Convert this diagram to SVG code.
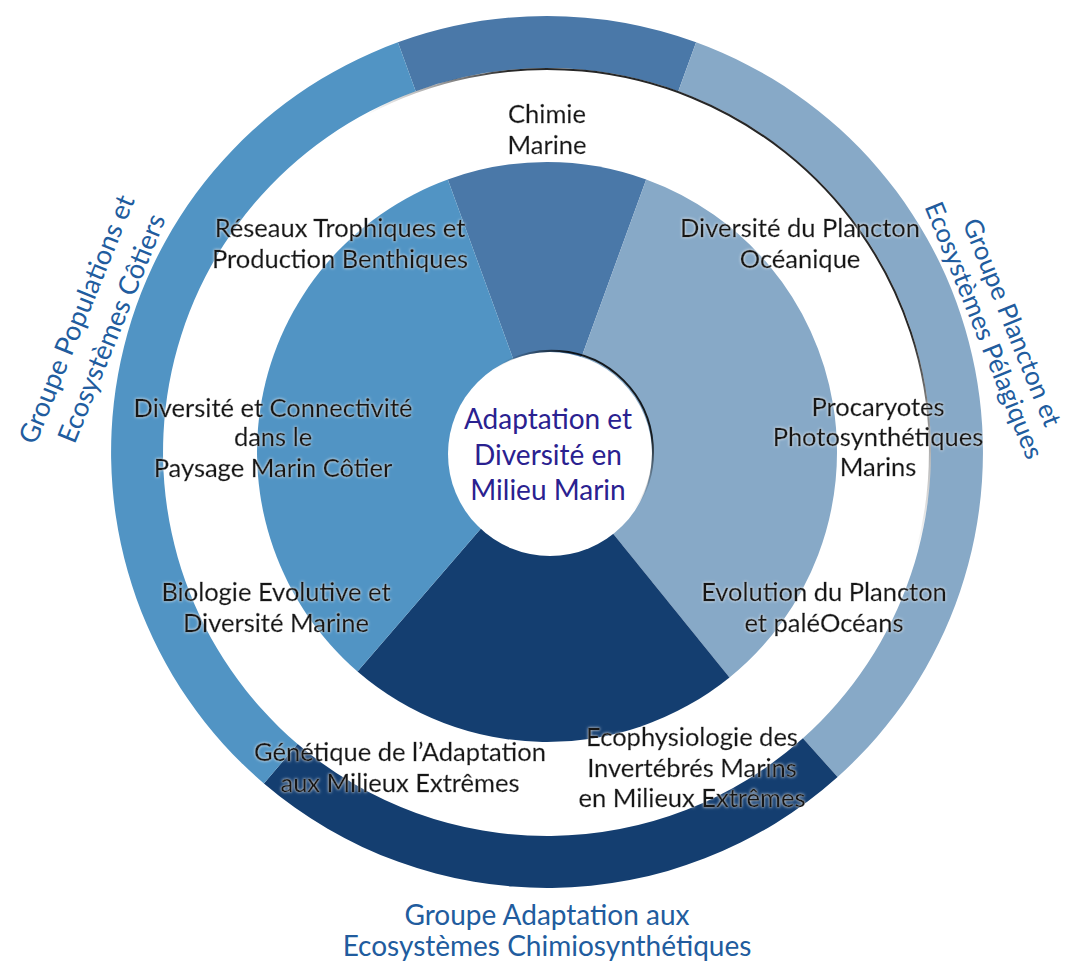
<svg xmlns="http://www.w3.org/2000/svg" width="1071" height="963" viewBox="0 0 1071 963">
  <defs>
    <style>
      .c-top { fill: #4a78a8; }
      .c-left { fill: #5194c4; }
      .c-right { fill: #87a9c7; }
      .c-bottom { fill: #143e70; }
      .lbl { font-family: "Lato", "Open Sans", sans-serif; font-size: 25.5px; fill: #141414; stroke: #141414; stroke-width: 0.35px; text-anchor: middle; }
      .core { font-family: "Lato", "Open Sans", sans-serif; font-size: 28px; fill: #2a2190; text-anchor: middle; }
      .grp { font-family: "Lato", "Open Sans", sans-serif; font-size: 27px; fill: #215c9e; text-anchor: middle; }
      .shade { fill: none; stroke-width: 2; stroke-linecap: round; }
    </style>
    <filter id="halo" x="-10%" y="-30%" width="120%" height="160%">
      <feGaussianBlur in="SourceAlpha" stdDeviation="1.6" result="b"/>
      <feFlood flood-color="#ffffff" flood-opacity="0.85"/>
      <feComposite in2="b" operator="in" result="glow"/>
      <feMerge>
        <feMergeNode in="glow"/>
        <feMergeNode in="SourceGraphic"/>
      </feMerge>
    </filter>
    <linearGradient id="ringShade" gradientUnits="userSpaceOnUse" x1="367" y1="114" x2="917" y2="551">
      <stop offset="0" stop-color="#000" stop-opacity="0"/>
      <stop offset="0.12" stop-color="#000" stop-opacity="0.85"/>
      <stop offset="0.8" stop-color="#000" stop-opacity="0.85"/>
      <stop offset="1" stop-color="#000" stop-opacity="0"/>
    </linearGradient>
    <linearGradient id="coreShade" gradientUnits="userSpaceOnUse" x1="492" y1="371" x2="632" y2="512">
      <stop offset="0" stop-color="#000" stop-opacity="0"/>
      <stop offset="0.2" stop-color="#000" stop-opacity="0.85"/>
      <stop offset="0.8" stop-color="#000" stop-opacity="0.85"/>
      <stop offset="1" stop-color="#000" stop-opacity="0"/>
    </linearGradient>
  </defs>

  <rect width="1071" height="963" fill="#ffffff"/>

  <!-- outer ring: the three research groups plus the chemistry segment -->
  <g id="ring">
    <path id="ring-top" class="c-top" d="M397.9,42.3 A436,436 0 0 1 696.1,42.3 L678.3,91.2 A384,384 0 0 0 415.7,91.2 Z"/>
    <path id="ring-right" class="c-right" d="M696.1,42.3 A436,436 0 0 1 837.6,777 L802.9,738.3 A384,384 0 0 0 678.3,91.2 Z"/>
    <path id="ring-bottom" class="c-bottom" d="M837.6,777 A436,436 0 0 1 263.9,783.5 L297.6,744 A384,384 0 0 0 802.9,738.3 Z"/>
    <path id="ring-left" class="c-left" d="M263.9,783.5 A436,436 0 0 1 397.9,42.3 L415.7,91.2 A384,384 0 0 0 297.6,744 Z"/>
    <path class="shade" stroke="url(#ringShade)" d="M367.2,113.8 A383,383 0 0 1 916.9,551.1"/>
  </g>

  <!-- inner pie: the teams -->
  <g id="pie">
    <path id="pie-top" class="c-top" d="M547,452 L447.8,179.5 A290,290 0 0 1 646.2,179.5 Z"/>
    <path id="pie-right" class="c-right" d="M547,452 L646.2,179.5 A290,290 0 0 1 729.5,677.4 Z"/>
    <path id="pie-bottom" class="c-bottom" d="M547,452 L729.5,677.4 A290,290 0 0 1 357.5,671.5 Z"/>
    <path id="pie-left" class="c-left" d="M547,452 L357.5,671.5 A290,290 0 0 1 447.8,179.5 Z"/>
  </g>

  <!-- central unit -->
  <g id="core">
    <circle cx="550" cy="454" r="102" fill="#ffffff"/>
    <path class="shade" stroke="url(#coreShade)" d="M491.5,370.8 A101,101 0 0 1 632.7,512.4"/>
    <text class="core" x="548" y="429">Adaptation et</text>
    <text class="core" x="548" y="465">Diversité en</text>
    <text class="core" x="548" y="500">Milieu Marin</text>
  </g>

  <!-- team labels -->
  <g id="team-chimie" filter="url(#halo)">
    <text class="lbl" x="547" y="123">Chimie</text>
    <text class="lbl" x="547" y="154">Marine</text>
  </g>
  <g id="team-reseaux" filter="url(#halo)">
    <text class="lbl" x="340" y="237">Réseaux Trophiques et</text>
    <text class="lbl" x="340" y="268">Production Benthiques</text>
  </g>
  <g id="team-plancton" filter="url(#halo)">
    <text class="lbl" x="800" y="237">Diversité du Plancton</text>
    <text class="lbl" x="800" y="268">Océanique</text>
  </g>
  <g id="team-connectivite" filter="url(#halo)">
    <text class="lbl" x="273" y="417">Diversité et Connectivité</text>
    <text class="lbl" x="273" y="446">dans le</text>
    <text class="lbl" x="273" y="477">Paysage Marin Côtier</text>
  </g>
  <g id="team-procaryotes" filter="url(#halo)">
    <text class="lbl" x="878" y="416">Procaryotes</text>
    <text class="lbl" x="878" y="446">Photosynthétiques</text>
    <text class="lbl" x="878" y="476">Marins</text>
  </g>
  <g id="team-biologie" filter="url(#halo)">
    <text class="lbl" x="276" y="601">Biologie Evolutive et</text>
    <text class="lbl" x="276" y="632">Diversité Marine</text>
  </g>
  <g id="team-evolution" filter="url(#halo)">
    <text class="lbl" x="824" y="601">Evolution du Plancton</text>
    <text class="lbl" x="824" y="632">et paléOcéans</text>
  </g>
  <g id="team-genetique" filter="url(#halo)">
    <text class="lbl" x="400" y="761">Génétique de l’Adaptation</text>
    <text class="lbl" x="400" y="792">aux Milieux Extrêmes</text>
  </g>
  <g id="team-ecophysiologie" filter="url(#halo)">
    <text class="lbl" x="692" y="746">Ecophysiologie des</text>
    <text class="lbl" x="692" y="777">Invertébrés Marins</text>
    <text class="lbl" x="692" y="807">en Milieux Extrêmes</text>
  </g>

  <!-- group labels -->
  <g id="group-cotiers">
    <text class="grp" transform="translate(76,319) rotate(-68)" y="10">Groupe Populations et</text>
    <text class="grp" transform="translate(111,328) rotate(-68)" y="10">Ecosystèmes Côtiers</text>
  </g>
  <g id="group-pelagiques">
    <text class="grp" transform="translate(1013,322) rotate(68)" y="10" style="font-size:26px">Groupe Plancton et</text>
    <text class="grp" transform="translate(985,330) rotate(68)" y="10" style="font-size:26px">Ecosystèmes Pélagiques</text>
  </g>
  <g id="group-chimiosynthetiques">
    <text class="grp" x="547" y="925" style="font-size:28px">Groupe Adaptation aux</text>
    <text class="grp" x="547" y="956" style="font-size:28px">Ecosystèmes Chimiosynthétiques</text>
  </g>
</svg>
